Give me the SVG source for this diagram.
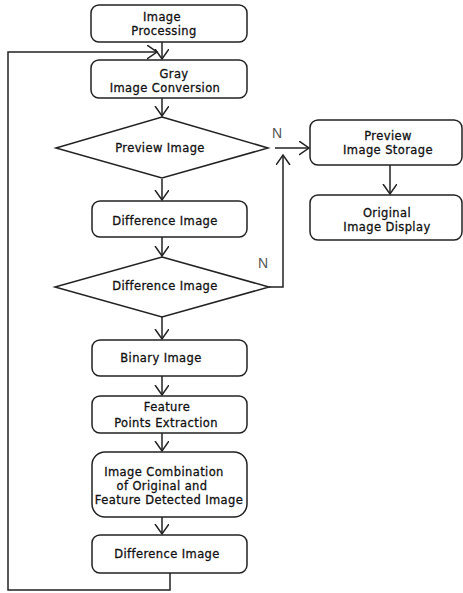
<svg xmlns="http://www.w3.org/2000/svg" width="463" height="593" viewBox="0 0 463 593">
<style>
.box{fill:#fff;stroke:#222;stroke-width:1.5}
.t{font-family:"DejaVu Sans","Liberation Sans",sans-serif;font-size:11.5px;letter-spacing:0.4px;fill:#111;stroke:#111;stroke-width:0.3px;text-anchor:middle}
.n{font-family:"Liberation Sans",Arial,sans-serif;font-size:14px;fill:#555;text-anchor:middle}
.c{fill:none;stroke:#222;stroke-width:1.5}
</style>
<defs>
<marker id="ar" markerUnits="userSpaceOnUse" markerWidth="12" markerHeight="16" refX="10" refY="7" orient="auto">
<path d="M0,0 L10,7 L0,14" fill="none" stroke="#222" stroke-width="1.5"/>
</marker>
</defs>
<rect width="463" height="593" fill="#fff"/>
<g id="connectors">
<line class="c" x1="162" y1="42" x2="162" y2="59" marker-end="url(#ar)"/>
<line class="c" x1="162" y1="98" x2="162" y2="116" marker-end="url(#ar)"/>
<line class="c" x1="162" y1="179" x2="162" y2="200" marker-end="url(#ar)"/>
<line class="c" x1="162" y1="237" x2="162" y2="256" marker-end="url(#ar)"/>
<line class="c" x1="162" y1="317" x2="162" y2="339" marker-end="url(#ar)"/>
<line class="c" x1="162" y1="376" x2="162" y2="395" marker-end="url(#ar)"/>
<line class="c" x1="162" y1="433" x2="162" y2="451" marker-end="url(#ar)"/>
<line class="c" x1="162" y1="517" x2="162" y2="534" marker-end="url(#ar)"/>
<polyline class="c" points="170,573 170,590 8,590 8,52 157,52" marker-end="url(#ar)"/>
<line class="c" x1="275" y1="148" x2="309" y2="148" marker-end="url(#ar)"/>
<polyline class="c" points="269,287 283,287 283,155" marker-end="url(#ar)"/>
<line class="c" x1="390" y1="165" x2="390" y2="194" marker-end="url(#ar)"/>
<text class="n" x="277" y="138">N</text>
<text class="n" x="263" y="268">N</text>
</g>
<g id="n1"><rect class="box" x="91" y="5" width="156" height="37" rx="8"/><text class="t" x="162" y="21">Image</text><text class="t" x="164" y="35">Processing</text></g>
<g id="n2"><rect class="box" x="91" y="60" width="156" height="38" rx="8"/><text class="t" x="174" y="78">Gray</text><text class="t" x="165" y="92">Image Conversion</text></g>
<g id="n3"><polygon class="box" points="162,117 268,148 162,178 56,148"/><text class="t" x="160" y="152">Preview Image</text></g>
<g id="n4"><rect class="box" x="310" y="120" width="152" height="45" rx="8"/><text class="t" x="388" y="140">Preview</text><text class="t" x="388" y="154">Image Storage</text></g>
<g id="n5"><rect class="box" x="310" y="195" width="152" height="45" rx="8"/><text class="t" x="387" y="217">Original</text><text class="t" x="387" y="231">Image Display</text></g>
<g id="n6"><rect class="box" x="92" y="201" width="155" height="36" rx="8"/><text class="t" x="165" y="225">Difference Image</text></g>
<g id="n7"><polygon class="box" points="162,257 269,287 162,317 55,287"/><text class="t" x="165" y="290">Difference Image</text></g>
<g id="n8"><rect class="box" x="92" y="340" width="155" height="36" rx="8"/><text class="t" x="161" y="362">Binary Image</text></g>
<g id="n9"><rect class="box" x="92" y="396" width="155" height="37" rx="8"/><text class="t" x="167" y="411">Feature</text><text class="t" x="166" y="427">Points Extraction</text></g>
<g id="n10"><rect class="box" x="92" y="452" width="155" height="65" rx="13"/><text class="t" x="164" y="476">Image Combination</text><text class="t" x="162" y="490">of Original and</text><text class="t" x="169" y="504">Feature Detected Image</text></g>
<g id="n11"><rect class="box" x="92" y="535" width="155" height="38" rx="8"/><text class="t" x="167" y="558">Difference Image</text></g>
</svg>
